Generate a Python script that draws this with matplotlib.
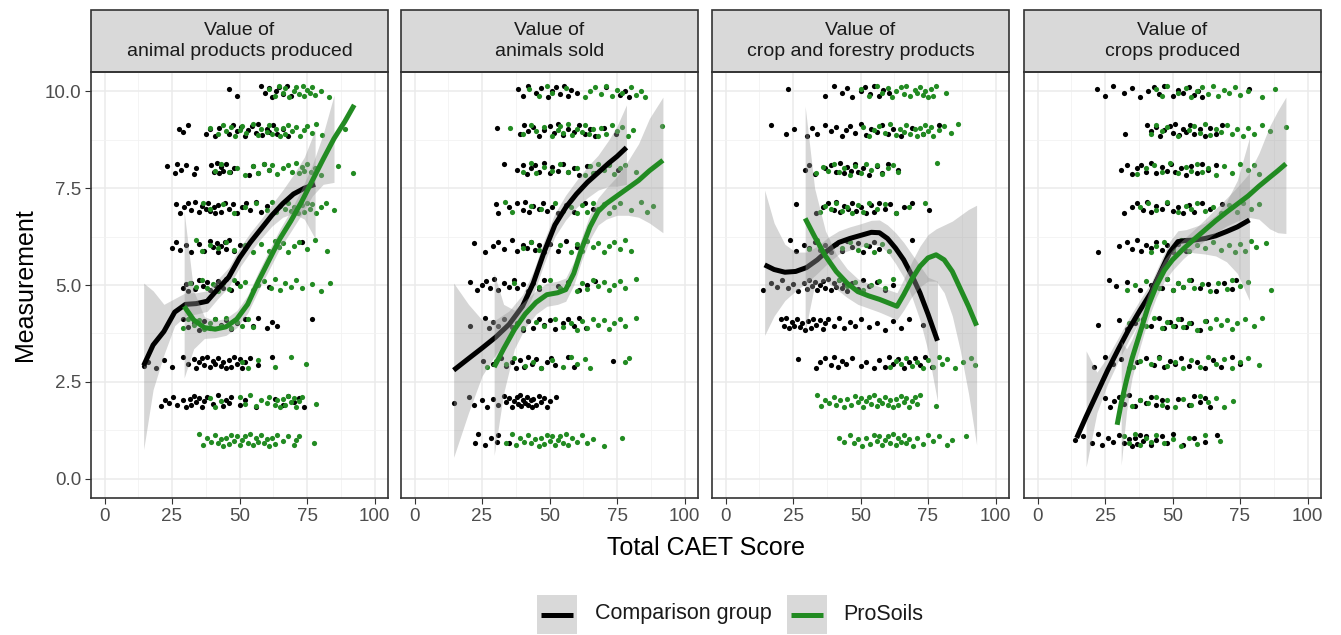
import matplotlib
matplotlib.use("Agg")
import matplotlib.pyplot as plt
import numpy as np
from matplotlib.patches import Rectangle
from matplotlib.lines import Line2D

plt.rcParams["font.family"] = ["Liberation Sans", "DejaVu Sans"]

nan = np.nan

# facet titles
titles = ["Value of\nanimal products produced", "Value of\nanimals sold",
          "Value of\ncrop and forestry products", "Value of\ncrops produced"]

# ---- raw points: measurement level -> Total CAET Score values ----
ap_comp = {
    10: [46, 49, 58, 59.5, 61, 62, 63.5, 64.5, 66, 67.5, 69],
    9: [27.5, 29, 31, 37.5, 39, 41, 42.5, 46, 47.5, 49, 50.5, 52, 53, 54.5, 56, 57, 58.5, 60, 61, 62.5, 64, 66, 68],
    8: [23, 26, 27, 28.5, 30, 33, 34, 39.5, 40.5, 41.5, 42.5, 43, 44, 45, 46.5, 48, 53.5, 55, 57, 59, 61],
    7: [26.5, 28, 29.5, 31, 32, 33.5, 35, 36, 37.5, 38.5, 39, 40.5, 41, 42, 43, 44.5, 46, 47.5, 49, 51, 52.5, 54, 56, 58, 60],
    6: [25, 26.5, 28, 30, 32, 35, 37, 39, 40, 41.5, 42, 43, 44.5, 45, 46, 48, 50, 52, 73],
    5: [29, 30, 31, 32, 33.5, 35, 36.5, 38, 39, 41, 42, 44, 45, 47, 49, 61],
    4: [29, 31, 33, 35, 37, 39, 41, 43, 45, 47, 49, 52, 55, 57, 60, 62, 64, 77],
    3: [14.5, 16, 19, 22, 25, 29, 31, 33, 34, 35, 36, 37, 38, 39, 40, 41, 42, 43, 44, 45, 46, 47, 48, 49, 50, 51, 52, 54, 57, 62],
    2: [21, 22.5, 24, 25.5, 27, 29, 30, 31.5, 32, 33, 34, 35, 36, 37, 38, 40, 42, 44, 45, 46, 47, 50, 52, 56, 63, 66, 68, 70, 72, 74],
    1: [],
}
ap_pro = {
    10: [61, 63, 64.5, 66, 67, 68.5, 70, 71, 72, 73.5, 74, 75, 76, 77, 78, 80, 83],
    9: [39, 42, 44, 45, 47, 48.5, 50, 51, 52.5, 55, 57, 58, 60, 61, 62, 63.5, 65, 66, 67, 68, 69.5, 71, 72.5, 74, 75, 77, 78.5, 80.5, 89],
    8: [41, 43, 46, 49, 52, 55, 57, 59, 61, 62, 64, 66, 68, 69.5, 71, 72, 73, 74, 75, 76.5, 78, 80, 86.5, 92],
    7: [36.5, 39, 44, 48, 52, 56, 60, 62, 63.5, 65, 67, 68, 69, 70, 71.5, 73, 74, 75, 76, 77, 78.5, 80, 82, 85],
    6: [34, 36, 39, 42, 45, 48, 52, 55, 58, 61, 63, 64.5, 66, 68, 70, 72, 75, 78, 82.5],
    5: [31.5, 34, 36, 38, 40, 42, 44, 46, 48, 50, 52, 55, 57, 59, 61.5, 63, 65, 67, 69, 71, 73, 77, 80, 83.5],
    4: [29, 31, 33, 35, 37, 39, 41, 43, 45, 47, 49, 51, 53, 55],
    3: [51, 53, 57, 63, 69, 74.5],
    2: [39, 41, 43, 50, 52, 54, 56, 58, 60, 61, 63, 64, 65, 66, 67, 68, 69, 70, 71, 72, 73, 78.5],
    1: [35, 36.5, 38, 39.5, 41, 42, 43, 44, 45, 46, 47, 48, 49, 50, 51, 52, 53, 54, 55, 56, 57, 58, 59, 60, 61, 62, 63, 64, 66, 68, 70, 71, 72, 77.5],
}
as_comp = {
    10: [38.5, 40, 42, 45, 47, 49.5, 51, 52.5, 54, 55.5, 57, 58, 60, 71, 76, 78, 79.5],
    9: [30.5, 39, 40.5, 42, 44, 46, 48, 50, 51.5, 53, 55, 57, 59, 61, 63, 65, 67, 70, 74.5],
    8: [33, 38, 40, 41.5, 43, 44.5, 46, 48, 50, 51, 53, 55, 57, 59, 61, 64, 67, 72, 75.5],
    7: [30, 31, 35, 38, 40, 41, 42.5, 44, 46, 47.5, 49, 51, 53, 56, 59, 63, 66],
    6: [22, 26, 29, 31, 33, 36, 38, 40, 41.5, 43, 44.5, 46, 48, 50, 53, 56, 60],
    5: [20.5, 23, 25, 26.5, 28, 29.5, 31, 33, 35, 37, 38, 40, 42, 44, 46, 48, 53, 57, 61, 64, 67],
    4: [20.5, 26, 27.5, 29, 31, 33, 36, 38, 40, 42, 44, 46, 48, 50, 52, 55, 57, 59, 61, 63.5],
    3: [25.5, 29, 32, 34, 36, 37.5, 39, 40.5, 42, 43.5, 45, 47, 49, 50.5, 52, 57, 59, 73.5],
    2: [14.5, 20, 22, 25, 27, 29, 31, 33, 34, 35, 36, 37, 38, 38.5, 39, 39.5, 40, 41, 41.5, 42, 43, 43.5, 44, 45, 46, 47, 48, 49, 50, 52.5],
    1: [22.5, 23.5, 26, 28.5, 30.5, 31, 35],
}
as_pro = {
    10: [42.5, 46, 49, 51, 56, 63, 65, 67, 69, 71, 73, 75, 77, 80, 82, 84, 85.5],
    9: [35.5, 40, 43, 45, 48, 51, 53, 54, 55, 57, 58.5, 60, 62, 63, 64.5, 66, 68, 69, 71, 73, 75, 77, 79, 81, 91.5],
    8: [40, 43, 45, 48, 51, 54, 57, 60, 63, 65, 66, 68, 70, 72, 74, 76, 78, 82],
    7: [33.5, 36, 43, 47, 52, 55, 58, 60, 62, 64, 66, 68, 70, 72, 74, 76, 80, 84, 86, 88.5],
    6: [40, 43, 46, 54, 58, 60, 62, 64, 66, 68, 70, 72, 74, 76, 78, 80],
    5: [37, 46, 50, 54, 57, 60, 62, 64, 66, 68, 70, 72, 74, 76, 78, 82],
    4: [40, 45, 48, 52, 55, 58, 60, 62, 64, 66, 68, 70, 72, 74, 76, 78, 82],
    3: [27, 30, 34, 37, 41, 44, 47, 51, 55, 58, 60, 63, 65, 78, 79.5],
    2: [],
    1: [34, 36, 37.5, 39, 40.5, 42, 43, 44.5, 46, 47, 48, 49, 50, 51, 52, 53, 54, 55, 56, 57, 58.5, 60, 62, 64, 66, 70, 77],
}
cf_comp = {
    10: [23, 37, 40, 43, 45, 47, 50, 51.5, 53.5, 55, 57, 58.5, 60.5],
    9: [17, 22.5, 25.5, 30, 32, 34, 37, 39, 41, 43, 44.5, 46, 48, 50, 52, 54, 56, 58, 60, 62, 65, 69, 73, 79],
    8: [29.5, 31, 33, 37, 39, 41, 42.5, 44, 45, 46.5, 48, 49, 51, 53, 56, 58, 60, 64],
    7: [26, 33.5, 36, 38, 40, 41, 42.5, 44, 45.5, 47, 48.5, 50, 52, 54, 55, 57, 59, 61, 63, 66, 69, 75.5],
    6: [24, 26, 29, 31, 33, 35, 37, 39, 41, 43, 45, 47, 49, 51, 53, 55, 57, 69],
    5: [14, 17, 19, 21, 23, 25, 27, 29, 30, 31, 32, 33, 34, 35, 36, 37, 38, 39, 40, 41, 42, 43, 44, 45, 47, 49, 51, 53, 56, 59, 62],
    4: [20.5, 21.5, 22.5, 23.5, 24.5, 25.5, 26.5, 27.5, 28.5, 29.5, 30.5, 31.5, 32.5, 33.5, 35, 36, 37, 38, 40, 42, 44, 46, 48, 50, 53, 56, 59, 62, 65, 68, 73],
    3: [27, 33.5, 35, 37, 39, 40, 41.5, 43, 44.5, 47, 50, 52, 55, 57, 59, 60.5, 62, 64, 66, 68, 70, 72, 74, 76.5],
    2: [],
    1: [],
}
cf_pro = {
    10: [50, 53, 56, 58, 60, 61.5, 63, 65, 66, 67, 68.5, 70, 71, 72, 73, 74, 75, 76, 77, 78, 81.5],
    9: [51, 53, 55, 57, 59, 61, 63, 64.5, 66, 67, 68.5, 70, 71, 72, 73, 74, 75, 76, 77, 79, 81, 83.5, 86],
    8: [33.5, 36, 38, 40, 42, 44, 46, 48, 50, 52, 54, 56, 58, 60, 62, 64, 78.5],
    7: [35, 37, 39, 41, 43, 45, 47, 49, 51, 53, 56, 59, 63, 68, 74],
    6: [31, 34, 37, 40, 43, 46, 49, 52, 55, 58, 60.5],
    5: [42, 45, 48, 51, 54, 57, 59, 62],
    4: [],
    3: [61, 63, 65, 67, 69, 71, 73, 75, 77, 79, 80, 82, 85, 88, 91, 92.5],
    2: [34, 35.5, 37, 38.5, 40, 41, 42.5, 44, 45, 46.5, 48, 49, 50, 51, 52, 53, 54, 55, 56, 57, 58, 59, 60, 61, 62, 63, 64, 65, 66, 67, 68, 69, 70, 71, 72, 78],
    1: [42, 44, 46, 47.5, 49, 50.5, 52, 53.5, 55, 56, 57, 58, 59, 60, 61, 62, 63, 64, 65, 66, 67, 68, 69.5, 71, 73, 75, 77, 79, 82, 84, 89],
}
cp_comp = {
    10: [22, 25, 28, 32, 35, 38, 41, 43, 45, 47, 50, 52, 54, 56, 58, 59.5, 61, 78.5],
    9: [32.5, 40.5, 42, 44, 45.5, 47, 49, 50, 51, 52.5, 54, 55, 56.5, 58, 60, 62, 64, 66, 68.5],
    8: [31, 33, 35, 37, 38.5, 40, 42, 44, 46, 48, 49.5, 51, 53, 55, 57, 59, 61, 63, 66],
    7: [32, 35, 37, 39, 40.5, 42, 44, 46, 48, 50, 52, 54, 56, 58, 61, 64, 68.5],
    6: [22.5, 30, 33, 35, 37, 38.5, 40, 42, 44, 46, 48, 50, 52, 55],
    5: [26.5, 29, 33, 38, 42, 44, 46, 48, 50, 52, 54, 57, 60, 63, 66, 69, 72, 73.5],
    4: [22.5, 30, 33, 36, 39, 42, 45, 47, 49, 51, 53, 55, 57, 60, 62.5],
    3: [21, 25, 28, 31, 34, 37, 40, 43, 45, 47, 49, 51, 53, 56, 59, 62, 65, 68, 72, 75],
    2: [25, 27, 28.5, 30, 32, 34, 36, 38, 40, 42, 44, 46, 48, 52, 56, 58, 60, 62, 64],
    1: [14, 17, 20, 22.5, 24, 26, 28, 30, 32, 34, 35, 36, 37, 38, 39, 40, 42, 44, 46, 48, 50, 54, 58, 62, 66.5],
}
cp_pro = {
    10: [44, 46, 48, 52, 55, 57, 59, 61, 63, 65, 67, 69, 71, 73, 75, 78, 83, 88],
    9: [42, 44, 46, 48, 52, 56, 58, 60, 62, 64, 66, 68, 70, 72, 74, 76, 78, 80, 83, 86, 92],
    8: [37, 40, 43, 46, 49, 52, 55, 57, 59, 61, 63, 66, 69, 72, 75, 78, 80, 82],
    7: [38, 41, 44, 48, 52, 55, 57, 59, 62, 65, 68, 71, 74, 76, 79, 82],
    6: [42, 44, 47, 50, 53, 56, 59, 62, 65, 68, 71, 73, 75, 77, 79, 81, 84.5],
    5: [33, 36, 40, 45, 48, 50, 52, 54, 56, 58, 61, 64, 67, 70, 72, 75, 78, 86.5],
    4: [34, 37, 40, 43, 46, 48, 50, 52, 54, 56, 59, 62, 64, 66, 68, 70, 72, 74, 77, 80, 83],
    3: [35.5, 38, 42, 45, 48, 51, 54, 57, 60, 63, 66, 69, 72, 75, 78, 82],
    2: [32, 35, 38, 41, 44, 46, 48, 51, 54, 57, 60, 63, 66, 69, 72.5],
    1: [32, 34, 36, 38, 40, 42, 44, 47, 50, 53, 56, 59, 62, 67.5],
}

# ---- loess fits (x, fit, lower, upper) ----
ap_comp_x = [14.5, 18, 22, 26, 30, 34, 38, 42, 46, 50, 54, 58, 62, 66, 70, 74, 78]
ap_comp_y = [2.92, 3.45, 3.8, 4.3, 4.5, 4.52, 4.58, 4.9, 5.2, 5.7, 6.1, 6.45, 6.8, 7.1, 7.35, 7.5, 7.6]
ap_comp_lo = [0.75, 2.3, 3.2, 3.95, 4.2, 4.25, 4.32, 4.65, 4.95, 5.45, 5.85, 6.2, 6.52, 6.75, 6.85, 6.7, 6.2]
ap_comp_hi = [5.05, 4.85, 4.5, 4.65, 4.8, 4.8, 4.85, 5.15, 5.45, 5.95, 6.35, 6.7, 7.08, 7.45, 7.85, 8.3, 9.0]
ap_pro_x = [29.5, 33, 37, 41, 45, 49, 53, 57, 61, 65, 69, 73, 77, 81, 85, 89, 92.5]
ap_pro_y = [4.45, 4.1, 3.9, 3.86, 3.92, 4.12, 4.5, 5.1, 5.65, 6.2, 6.65, 7.15, 7.7, 8.25, 8.78, 9.22, 9.65]
ap_pro_lo = [2.6, 3.35, 3.62, 3.64, 3.7, 3.9, 4.27, 4.86, 5.4, 5.95, 6.38, 6.82, 7.3, 7.6, 7.65, nan, nan]
ap_pro_hi = [6.9, 4.85, 4.18, 4.08, 4.14, 4.34, 4.73, 5.34, 5.9, 6.45, 6.92, 7.48, 8.1, 8.9, 9.9, nan, nan]

as_comp_x = [14.5, 20, 25, 30, 35, 40, 44, 48, 52, 56, 60, 64, 68, 72, 75, 78.5]
as_comp_y = [2.8, 3.1, 3.37, 3.65, 3.98, 4.45, 5.05, 5.85, 6.55, 7.0, 7.35, 7.65, 7.9, 8.15, 8.32, 8.55]
as_comp_lo = [0.55, 1.7, 2.65, 3.2, 3.63, 4.15, 4.75, 5.55, 6.25, 6.68, 7.0, 7.25, 7.45, 7.55, 7.55, 7.6]
as_comp_hi = [5.05, 4.5, 4.1, 4.1, 4.33, 4.75, 5.35, 6.15, 6.85, 7.32, 7.7, 8.05, 8.35, 8.75, 9.1, 9.65]
as_pro_x = [29.5, 33, 37, 41, 45, 49, 53, 56, 59, 62, 65, 68, 71, 75, 79, 83, 87, 92]
as_pro_y = [2.88, 3.35, 3.85, 4.25, 4.55, 4.75, 4.8, 4.88, 5.3, 5.95, 6.5, 6.9, 7.1, 7.3, 7.5, 7.7, 7.95, 8.22]
as_pro_lo = [0.6, 2.2, 3.35, 3.9, 4.25, 4.45, 4.5, 4.58, 5.0, 5.65, 6.18, 6.55, 6.7, 6.8, 6.8, 6.75, 6.6, 6.35]
as_pro_hi = [5.3, 4.5, 4.35, 4.6, 4.85, 5.05, 5.1, 5.18, 5.6, 6.25, 6.82, 7.25, 7.5, 7.8, 8.2, 8.65, 9.3, 9.85]

cf_comp_x = [14.5, 18, 22, 26, 30, 34, 38, 42, 46, 50, 54, 57, 60, 63, 66, 69, 72, 75, 78.5]
cf_comp_y = [5.52, 5.4, 5.33, 5.35, 5.45, 5.65, 5.9, 6.1, 6.2, 6.28, 6.36, 6.35, 6.2, 5.95, 5.65, 5.25, 4.8, 4.25, 3.56]
cf_comp_lo = [3.7, 4.2, 4.6, 4.85, 5.05, 5.3, 5.57, 5.8, 5.9, 5.98, 6.05, 6.02, 5.85, 5.55, 5.2, 4.7, 4.1, 3.3, 2.0]
cf_comp_hi = [7.45, 6.6, 6.05, 5.85, 5.85, 6.0, 6.23, 6.4, 6.5, 6.58, 6.67, 6.68, 6.55, 6.35, 6.1, 5.8, 5.5, 5.2, 5.1]
cf_pro_x = [29.5, 33, 37, 41, 45, 49, 53, 57, 61, 63.5, 66, 69, 72, 75, 78, 81, 84, 87, 90, 93]
cf_pro_y = [6.72, 6.25, 5.75, 5.35, 5.05, 4.83, 4.72, 4.63, 4.52, 4.45, 4.75, 5.15, 5.48, 5.7, 5.78, 5.65, 5.35, 4.9, 4.45, 3.95]
cf_pro_lo = [3.8, 5.0, 5.1, 4.9, 4.68, 4.5, 4.4, 4.3, 4.18, 4.1, 4.35, 4.7, 4.95, 5.1, 5.1, 4.8, 4.2, 3.3, 2.2, 0.87]
cf_pro_hi = [9.62, 7.5, 6.4, 5.8, 5.42, 5.16, 5.04, 4.96, 4.86, 4.8, 5.15, 5.6, 6.0, 6.3, 6.45, 6.55, 6.65, 6.8, 6.95, 7.06]

cp_comp_x = [14.5, 18, 22, 26, 30, 34, 38, 42, 46, 49, 52, 55, 58, 62, 66, 70, 74, 78.5]
cp_comp_y = [1.05, 1.6, 2.2, 2.8, 3.35, 3.88, 4.35, 4.8, 5.4, 5.85, 6.12, 6.15, 6.16, 6.2, 6.27, 6.38, 6.5, 6.68]
cp_comp_lo = [nan, 0.3, 1.7, 2.45, 3.05, 3.6, 4.08, 4.55, 5.12, 5.57, 5.85, 5.87, 5.83, 5.8, 5.75, 5.6, 5.3, 4.6]
cp_comp_hi = [nan, 3.3, 2.75, 3.15, 3.65, 4.16, 4.62, 5.05, 5.68, 6.13, 6.4, 6.43, 6.5, 6.6, 6.8, 7.15, 7.7, 8.8]
cp_pro_x = [29.5, 31, 33, 35, 38, 41, 44, 47, 50, 54, 58, 62, 66, 70, 74, 78, 82, 86, 89, 92]
cp_pro_y = [1.39, 1.95, 2.55, 3.1, 3.77, 4.45, 4.98, 5.38, 5.65, 5.93, 6.18, 6.42, 6.66, 6.88, 7.09, 7.3, 7.55, 7.78, 7.95, 8.13]
cp_pro_lo = [nan, 0.35, 1.75, 2.6, 3.4, 4.12, 4.68, 5.1, 5.38, 5.68, 5.93, 6.15, 6.35, 6.52, 6.65, 6.75, 6.7, 6.45, 6.35, 6.33]
cp_pro_hi = [nan, 3.55, 3.35, 3.6, 4.14, 4.78, 5.28, 5.66, 5.92, 6.18, 6.43, 6.69, 6.97, 7.24, 7.53, 7.85, 8.4, 9.1, 9.5, 9.85]

points = [(ap_comp, ap_pro), (as_comp, as_pro), (cf_comp, cf_pro), (cp_comp, cp_pro)]
fits = [
    ((ap_comp_x, ap_comp_y, ap_comp_lo, ap_comp_hi), (ap_pro_x, ap_pro_y, ap_pro_lo, ap_pro_hi)),
    ((as_comp_x, as_comp_y, as_comp_lo, as_comp_hi), (as_pro_x, as_pro_y, as_pro_lo, as_pro_hi)),
    ((cf_comp_x, cf_comp_y, cf_comp_lo, cf_comp_hi), (cf_pro_x, cf_pro_y, cf_pro_lo, cf_pro_hi)),
    ((cp_comp_x, cp_comp_y, cp_comp_lo, cp_comp_hi), (cp_pro_x, cp_pro_y, cp_pro_lo, cp_pro_hi)),
]

# vertical jitter pattern (geom_jitter look)
JITTER = [0.06, -0.11, 0.13, -0.03, 0.09, -0.14, 0.01, 0.11, -0.07, 0.15, -0.12, 0.04, -0.05, 0.12, -0.09, 0.02, -0.15]

COLORS = ["#000000", "#228B22"]
W, H = 1341, 635


def jittered(levels):
    xs, ys = [], []
    k = 0
    for lev, vals in levels.items():
        for v in vals:
            xs.append(v)
            ys.append(lev + JITTER[k % len(JITTER)])
            k += 1
    return xs, ys


fig = plt.figure(figsize=(W / 100, H / 100), dpi=100)
lefts = [91, 401, 712, 1024]
pw, top, bottom = 297, 72, 498
strip_h = 62 / (bottom - top)

for i, left in enumerate(lefts):
    ax = fig.add_axes([left / W, 1 - bottom / H, pw / W, (bottom - top) / H])
    ax.set_xlim(-5, 105)
    ax.set_ylim(-0.5, 10.5)
    ax.set_xticks([0, 25, 50, 75, 100])
    ax.set_xticks([12.5, 37.5, 62.5, 87.5], minor=True)
    ax.set_yticks([0, 2.5, 5, 7.5, 10])
    ax.set_yticks([1.25, 3.75, 6.25, 8.75], minor=True)
    ax.set_yticklabels(["0.0", "2.5", "5.0", "7.5", "10.0"])
    ax.grid(which="major", color="#EBEBEB", lw=1.1)
    ax.grid(which="minor", color="#F2F2F2", lw=0.6)
    ax.set_axisbelow(True)
    for sp in ax.spines.values():
        sp.set_color("#333333")
        sp.set_linewidth(1.2)
    ax.tick_params(which="major", direction="out", length=4, width=0.8, color="#333333",
                   labelsize=13.5, labelcolor="#4D4D4D", pad=3)
    ax.tick_params(which="minor", length=0)
    if i > 0:
        ax.tick_params(axis="y", left=False, labelleft=False)

    # jittered points
    for grp, col in zip(points[i], COLORS):
        xs, ys = jittered(grp)
        ax.scatter(xs, ys, s=14, c=col, linewidths=0, zorder=2)

    # loess smooths with confidence band
    for j, ((fx, fy, flo, fhi), col) in enumerate(zip(fits[i], COLORS)):
        ax.fill_between(fx, flo, fhi, color="#999999", alpha=0.4, lw=0, zorder=3 + 2 * j)
        ax.plot(fx, fy, color=col, lw=3.6, zorder=4 + 2 * j, solid_capstyle="butt")

    # facet strip
    ax.add_patch(Rectangle((0, 1), 1, strip_h, transform=ax.transAxes, facecolor="#D9D9D9",
                           edgecolor="#333333", lw=1.2, clip_on=False))
    ax.text(0.5, 1 + strip_h / 2, titles[i], transform=ax.transAxes, ha="center", va="center",
            fontsize=14, color="#1A1A1A", linespacing=1.3)

fig.text(706 / W, 1 - 548 / H, "Total CAET Score", ha="center", va="center", fontsize=18)
fig.text(25 / W, 1 - 285 / H, "Measurement", ha="center", va="center", rotation=90, fontsize=18)

# legend at the bottom
for kx, tx, label, col in [(537, 595, "Comparison group", COLORS[0]), (787, 843, "ProSoils", COLORS[1])]:
    fig.add_artist(Rectangle((kx / W, 1 - 634 / H), 40 / W, 39 / H, transform=fig.transFigure,
                             facecolor="#D9D9D9", edgecolor="none"))
    fig.add_artist(Line2D([(kx + 4) / W, (kx + 36) / W], [1 - 615 / H] * 2, transform=fig.transFigure,
                          color=col, lw=3.6, solid_capstyle="butt"))
    fig.text(tx / W, 1 - 614 / H, label, ha="left", va="center", fontsize=15.5, color="#1A1A1A")

fig.savefig("out.png", dpi=100)
